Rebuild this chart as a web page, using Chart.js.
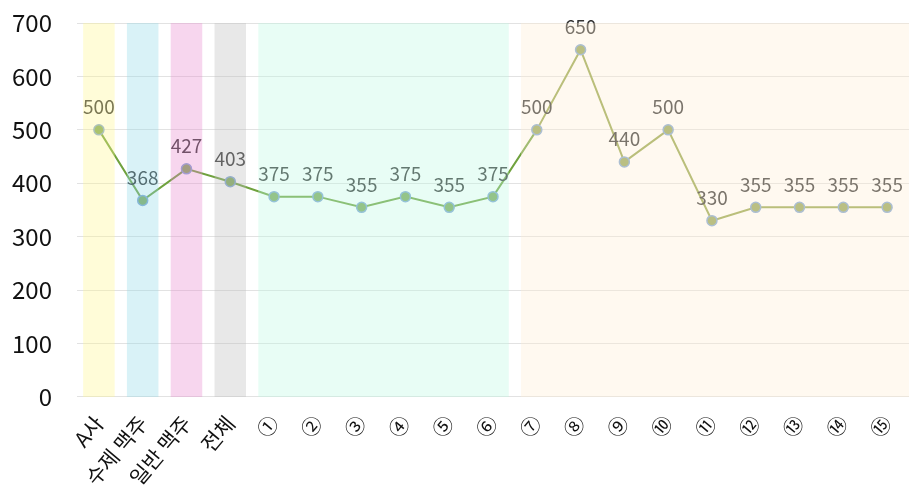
<!DOCTYPE html>
<html>
<head>
<meta charset="utf-8">
<script src="https://cdn.jsdelivr.net/npm/chart.js@4.4.1/dist/chart.umd.min.js"></script>
<style>
  html, body { margin: 0; padding: 0; background: #fff; }
  #wrap { width: 909px; height: 496px; }
</style>
</head>
<body>
<div id="wrap"><canvas id="chart"></canvas></div>
<script>
// 값들
const categories = ["A사", "수제 맥주", "일반 맥주", "전체",
  "①", "②", "③", "④", "⑤", "⑥", "⑦", "⑧", "⑨", "⑩", "⑪", "⑫", "⑬", "⑭", "⑮"];
const prices = [500, 368, 427, 403, 375, 375, 355, 375, 355, 375,
  500, 650, 440, 500, 330, 355, 355, 355, 355];
const yMax = 700;
const yStep = 100;

// 배경 구간 (시작, 끝 카테고리 번호)
const bandStart = [0, 1, 2, 3, 4, 10];
const bandEnd = [0, 1, 2, 3, 9, 18];
const bandColors = [
  "rgba(255,246,144,0.35)",
  "rgba(146,218,232,0.35)",
  "rgba(232,138,206,0.35)",
  "rgba(189,189,189,0.35)",
  "rgba(189,249,226,0.35)",
  "rgba(255,238,213,0.35)"
];

const fontFamily = "'Noto Sans CJK KR', 'Noto Sans', sans-serif";
const greenLine = "rgb(112,162,62)";
const oliveLine = "rgb(150,166,76)";

// 값 라벨
const valueLabels = {
  id: "valueLabels",
  afterDatasetsDraw(chart) {
    const ctx = chart.ctx;
    const meta = chart.getDatasetMeta(0);
    ctx.save();
    ctx.font = "19px " + fontFamily;
    ctx.fillStyle = "#333";
    ctx.textAlign = "center";
    ctx.textBaseline = "middle";
    meta.data.forEach((pt, i) => {
      ctx.fillText(prices[i], pt.x, pt.y - 23);
    });
    ctx.restore();
  }
};

// 반투명 배경 띠 (위에 덮음)
const bands = {
  id: "bands",
  afterDraw(chart) {
    const ctx = chart.ctx;
    const x = chart.scales.x;
    const y = chart.scales.y;
    const area = chart.chartArea;
    const half = (x.getPixelForValue(1) - x.getPixelForValue(0)) * 0.36;
    const top = y.getPixelForValue(yMax);
    const bottom = y.getPixelForValue(0);
    ctx.save();
    for (let i = 0; i < bandStart.length; i++) {
      const left = x.getPixelForValue(bandStart[i]) - half;
      // 마지막 구간은 오른쪽 끝까지
      const right = bandEnd[i] === categories.length - 1
        ? area.right
        : x.getPixelForValue(bandEnd[i]) + half;
      ctx.fillStyle = bandColors[i];
      ctx.fillRect(left, top, right - left, bottom - top);
    }
    ctx.restore();
  }
};

new Chart(document.getElementById("chart"), {
  type: "line",
  data: {
    labels: categories,
    datasets: [{
      data: prices,
      borderColor: greenLine,
      borderWidth: 2,
      segment: {
        borderColor: (c) => c.p0DataIndex >= 10 ? oliveLine : greenLine
      },
      pointRadius: 5,
      pointBorderWidth: 1.5,
      pointBackgroundColor: (c) => c.dataIndex >= 10 ? "rgb(150,166,88)" : "rgb(126,168,90)",
      pointBorderColor: "rgb(128,166,210)",
      tension: 0
    }]
  },
  options: {
    responsive: true,
    maintainAspectRatio: false,
    animation: false,
    layout: { autoPadding: false, padding: { left: 8, right: 0, top: 23, bottom: 0 } },
    plugins: {
      legend: { display: false },
      tooltip: { enabled: false }
    },
    scales: {
      x: {
        offset: true,
        grid: { display: false },
        border: { display: false },
        afterFit: (s) => { s.paddingLeft = 0; s.paddingRight = 0; },
        ticks: {
          color: "#111",
          minRotation: 50,
          maxRotation: 50,
          padding: 6,
          autoSkip: false,
          font: (c) => ({ family: fontFamily, size: c.index < 4 ? 21 : 20 })
        }
      },
      y: {
        min: 0,
        max: yMax,
        grid: { color: "#e2e2e2", drawTicks: false },
        border: { display: false },
        afterFit: (s) => { s.width = 69; s.paddingTop = 0; s.paddingBottom = 0; },
        ticks: {
          stepSize: yStep,
          color: "#111",
          padding: 25,
          font: { family: fontFamily, size: 24 }
        }
      }
    }
  },
  plugins: [valueLabels, bands]
});
</script>
</body>
</html>
